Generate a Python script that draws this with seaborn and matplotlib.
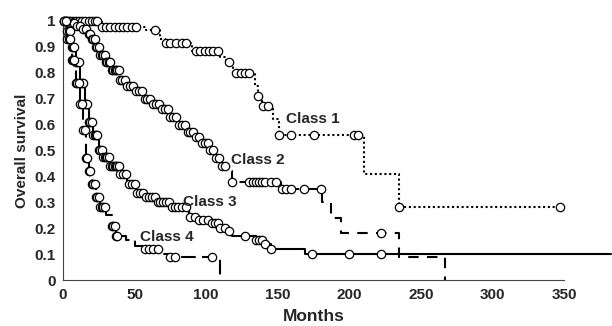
import numpy as np
import pandas as pd
import matplotlib
matplotlib.use("Agg")
import matplotlib.pyplot as plt
import seaborn as sns

# Kaplan-Meier step curves (months, survival)
t1 = [0, 27, 58, 68, 71, 90, 110, 114, 119, 134, 136, 139, 147, 151, 210, 235, 347]
s1 = [1.0, 0.975, 0.965, 0.93, 0.915, 0.885, 0.86, 0.84, 0.80, 0.75, 0.71, 0.67, 0.62, 0.56, 0.41, 0.28, 0.28]

t2 = [0, 5, 10, 14, 17, 20, 23, 26, 30, 34, 40, 45, 50, 56, 63, 68, 74, 80, 86, 92, 97,
      102, 106, 110, 114, 118, 152, 181, 187, 194, 235, 267]
s2 = [1.0, 0.99, 0.98, 0.97, 0.95, 0.93, 0.90, 0.87, 0.84, 0.81, 0.77, 0.75, 0.73, 0.70, 0.68,
      0.66, 0.63, 0.60, 0.57, 0.55, 0.53, 0.50, 0.47, 0.44, 0.42, 0.38, 0.35, 0.30, 0.24, 0.18, 0.09, 0.0]

t3 = [0, 3, 6, 9, 12, 15, 18, 21, 25, 28, 33, 40, 45, 51, 58, 65, 76, 88, 95, 102, 110,
      116, 118, 135, 140, 145, 169, 383]
s3 = [1.0, 0.96, 0.90, 0.84, 0.76, 0.68, 0.61, 0.56, 0.50, 0.475, 0.44, 0.41, 0.37, 0.335, 0.32,
      0.30, 0.28, 0.245, 0.23, 0.22, 0.20, 0.19, 0.17, 0.155, 0.14, 0.12, 0.10, 0.10]

t4 = [0, 3, 6, 9, 12, 14, 16, 18, 20, 23, 26, 30, 34, 37, 44, 50, 56, 70, 74, 110]
s4 = [1.0, 0.93, 0.85, 0.76, 0.68, 0.58, 0.47, 0.42, 0.37, 0.32, 0.28, 0.25, 0.21, 0.17, 0.155,
      0.13, 0.12, 0.10, 0.09, 0.0]

# censored observations (months)
c1 = [1, 3, 5, 7, 9, 11, 13, 15, 18, 20, 22, 24, 27, 30, 33, 36, 39, 42, 45, 48, 51, 64, 72, 75,
      79, 83, 86, 93, 96, 99, 102, 105, 108, 116, 121, 124, 127, 130, 136, 140, 143, 151, 159,
      175, 203, 206, 235, 347]
c2 = [2, 4, 6, 8, 10, 12, 14, 16, 18, 19, 20, 21, 22, 23, 24, 25, 26, 27, 28, 29, 30, 31, 32, 33,
      34, 35, 36, 37, 38, 39, 40, 41, 43, 45, 47, 49, 51, 53, 55, 57, 59, 61, 63, 65, 67, 69, 71,
      73, 75, 77, 79, 81, 83, 85, 87, 89, 91, 93, 95, 97, 99, 101, 103, 105, 107, 109, 111, 113,
      118, 130, 133, 135, 137, 139, 141, 145, 149, 153, 156, 159, 168, 180, 222]
c3 = [1, 2, 3, 4, 5, 6, 7, 8, 9, 10, 11, 12, 13, 14, 15, 16, 17, 18, 19, 20, 21, 22, 23, 24, 25,
      26, 27, 28, 29, 30, 31, 32, 33, 34, 35, 36, 37, 38, 39, 40, 42, 44, 46, 48, 50, 52, 54, 56,
      58, 60, 62, 64, 66, 68, 70, 72, 74, 76, 78, 80, 83, 86, 89, 92, 95, 98, 101, 104, 106, 108,
      110, 113, 116, 127, 135, 137, 139, 141, 145, 174, 200, 222]
c4 = [1, 2, 3, 4, 5, 6, 7, 8, 9, 10, 11, 12, 13, 14, 15, 16, 17, 18, 19, 20, 21, 22, 23, 24, 25,
      26, 27, 28, 29, 34, 35, 36, 37, 38, 57, 60, 63, 66, 75, 78, 104]

labels = ["Class 1", "Class 2", "Class 3", "Class 4"]
label_pos = [(156, 0.62), (117, 0.465), (84, 0.30), (54, 0.166)]
styles = [(0, (1, 1.3)), (0, (5, 4)), "-", (0, (7, 3))]

sns.set_style("white")
plt.rcParams['font.family'] = ['Liberation Sans', 'DejaVu Sans']
plt.rcParams['font.weight'] = 'bold'

fig = plt.figure(figsize=(6.12, 3.26), dpi=100)
ax = fig.add_axes([0.103, 0.141, 0.897, 0.795])

curves = [(t1, s1, c1), (t2, s2, c2), (t3, s3, c3), (t4, s4, c4)]
for (t, s, c), ls in zip(curves, styles):
    t = np.array(t, float)
    s = np.array(s, float)
    sns.lineplot(x=t, y=s, drawstyle='steps-post', estimator=None, sort=False,
                 color='black', linewidth=1.5, linestyle=ls, ax=ax, zorder=2)
    c = np.array(c, float)
    cy = s[np.searchsorted(t, c, side='right') - 1]
    sns.scatterplot(x=c, y=cy, marker='o', s=36, facecolor='white', edgecolor='black',
                    linewidth=0.9, ax=ax, zorder=3, clip_on=False)

for name, (x, y) in zip(labels, label_pos):
    ax.text(x, y, name, fontsize=11, fontweight='bold', va='center', ha='left')

ax.set_xlim(0, 383.5)
ax.set_ylim(0, 1)
ax.set_xticks(range(0, 351, 50))
ax.set_yticks(np.round(np.arange(0, 1.01, 0.1), 1))
ax.set_yticklabels(["0", "0.1", "0.2", "0.3", "0.4", "0.5", "0.6", "0.7", "0.8", "0.9", "1"])
ax.tick_params(direction='inout', length=7, width=1, labelsize=11, color='#444444', pad=2)
for lab in ax.get_xticklabels() + ax.get_yticklabels():
    lab.set_fontweight('bold')
ax.spines['top'].set_visible(False)
ax.spines['right'].set_visible(False)
ax.spines['bottom'].set_bounds(0, 350)
ax.spines['left'].set_color('#444444')
ax.spines['bottom'].set_color('#444444')
ax.set_xlabel('Months', fontsize=12.5, fontweight='bold', labelpad=0)
ax.xaxis.set_label_coords(175 / 383.5, -0.11)
ax.set_ylabel('Overall survival', fontsize=11, fontweight='bold', labelpad=2)
ax.yaxis.set_label_coords(-0.062, 0.5)

fig.savefig('out.png', dpi=100)
